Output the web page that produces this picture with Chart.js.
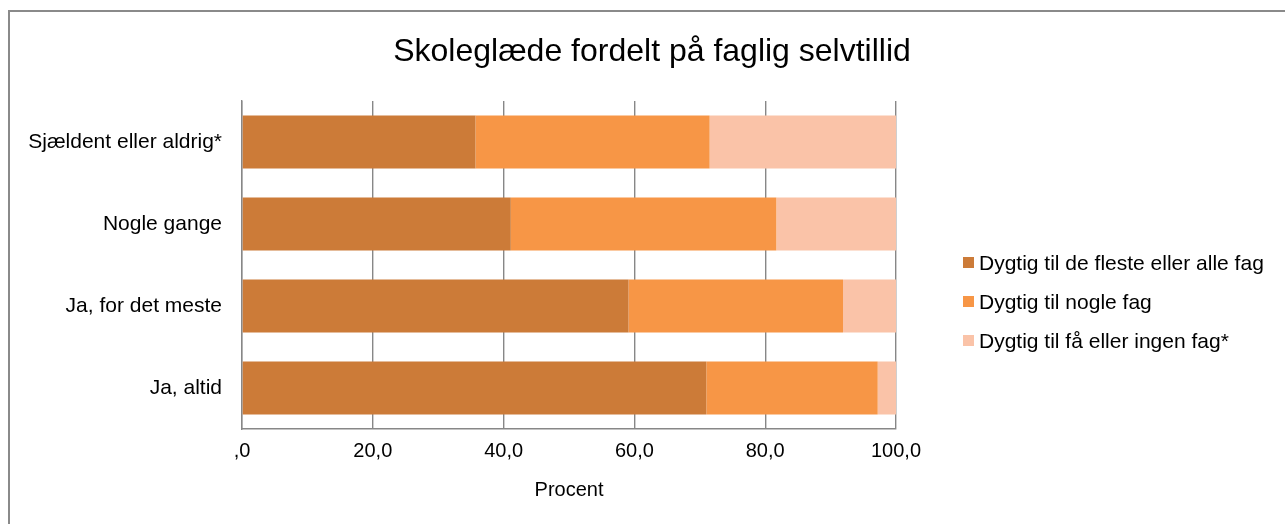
<!DOCTYPE html>
<html>
<head>
<meta charset="utf-8">
<script src="https://cdn.jsdelivr.net/npm/chart.js@4.4.1/dist/chart.umd.min.js"></script>
<style>
  html, body { margin: 0; padding: 0; background: #fff; }
  body { font-family: "Liberation Sans", Arial, sans-serif; }
  #wrap { position: relative; width: 1285px; height: 524px; overflow: hidden; }
  #frame {
    position: absolute; left: 8px; top: 10px; width: 1290px; height: 530px;
    border-left: 2px solid #8a8a8a; border-top: 2px solid #8a8a8a;
  }
  #chartBox { position: absolute; left: 0; top: 0; width: 1285px; height: 524px; }
  #title {
    position: absolute; left: 652px; top: 32px; transform: translateX(-50%);
    font-size: 32px; color: #000; white-space: nowrap;
  }
  #legend { position: absolute; left: 963px; top: 243px; }
  .item { display: flex; align-items: center; height: 39px; font-size: 21px; color: #000; white-space: nowrap; }
  .box { width: 11px; height: 11px; margin-right: 5px; }
</style>
</head>
<body>
<div id="wrap">
  <div id="frame"></div>
  <div id="chartBox"><canvas id="chart"></canvas></div>
  <div id="title">Skoleglæde fordelt på faglig selvtillid</div>
  <div id="legend"></div>
</div>
<script>
// Categories (y axis, top to bottom)
const categories = ["Sjældent eller aldrig*", "Nogle gange", "Ja, for det meste", "Ja, altid"];

// Series (percent)
const seriesNames = [
  "Dygtig til de fleste eller alle fag",
  "Dygtig til nogle fag",
  "Dygtig til få eller ingen fag*",
];
const mostSubjects = [35.7, 41.1, 59.1, 71.0];
const someSubjects = [35.8, 40.6, 32.8, 26.2];
const fewSubjects = [28.5, 18.3, 8.1, 2.8];

const colors = ["#CC7B38", "#F79646", "#FAC3A8"];

// Build legend
const legendEl = document.getElementById("legend");
seriesNames.forEach((name, i) => {
  const item = document.createElement("div");
  item.className = "item";
  item.innerHTML = `<span class="box" style="background:${colors[i]}"></span>${name}`;
  legendEl.appendChild(item);
});

const fontFamily = "'Liberation Sans', Arial, sans-serif";
const gridColor = "#878787";

new Chart(document.getElementById("chart").getContext("2d"), {
  type: "bar",
  data: {
    labels: categories,
    datasets: [mostSubjects, someSubjects, fewSubjects].map((d, i) => ({
      label: seriesNames[i],
      data: d,
      backgroundColor: colors[i],
      borderWidth: 0,
      categoryPercentage: 1,
      barPercentage: 0.646,
    })),
  },
  options: {
    indexAxis: "y",
    responsive: true,
    maintainAspectRatio: false,
    animation: false,
    layout: { padding: { top: 101, right: 389, bottom: 0, left: 0 } },
    plugins: {
      legend: { display: false },
      title: { display: false },
      tooltip: { enabled: false },
    },
    scales: {
      x: {
        stacked: true,
        min: 0,
        max: 100,
        ticks: {
          stepSize: 20,
          color: "#000",
          font: { family: fontFamily, size: 20 },
          padding: 10,
          callback: (v) => (v === 0 ? ",0" : v.toFixed(1).replace(".", ",")),
        },
        grid: { color: gridColor, lineWidth: 1.4, drawTicks: false },
        border: { display: true, color: gridColor, width: 1.4 },
        title: {
          display: true,
          text: "Procent",
          color: "#000",
          font: { family: fontFamily, size: 20 },
          padding: { top: 0, bottom: 22 },
        },
        afterFit: (scale) => { scale.height = 95; },
      },
      y: {
        stacked: true,
        ticks: { color: "#000", font: { family: fontFamily, size: 21 }, padding: 20 },
        grid: { display: false, drawTicks: false },
        border: { display: true, color: gridColor, width: 1.4 },
        afterFit: (scale) => { scale.width = 242; },
      },
    },
  },
});
</script>
</body>
</html>
